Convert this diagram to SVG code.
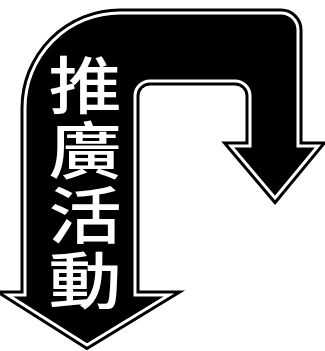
<svg xmlns="http://www.w3.org/2000/svg" width="325" height="351" viewBox="0 0 325 351">
<style>
.outer{fill:#000;stroke:#000;stroke-width:9;stroke-linejoin:miter;stroke-miterlimit:10}
.inner{fill:#000;stroke:#fff;stroke-width:3;stroke-linejoin:miter;stroke-miterlimit:10}
.lbl{fill:#fff;font-family:"Noto Sans CJK TC","Noto Sans CJK SC",sans-serif;font-size:60px;font-weight:500;writing-mode:vertical-rl;text-orientation:upright;letter-spacing:2.5px}
</style>
<defs>
<path id="arrowShape" d="M 25 295 L 25 108 A 95 95 0 0 1 120 13 L 281 13 A 17 17 0 0 1 298 30 L 298 146 L 318 146 L 275 198 L 231 146 L 250 146 L 250 96 A 15 15 0 0 0 235 81 L 150 81 A 15 15 0 0 0 135 96 L 135 295 L 169 295 L 87 345 L 8 295 Z"/>
</defs>
<rect width="325" height="351" fill="#fff"/>
<g id="connectors">
<use href="#arrowShape" class="outer"/>
<use href="#arrowShape" class="inner"/>
</g>
<g id="label" transform="translate(85,0) scale(1.22,1.04)">
<text class="lbl" x="0" y="52">推廣活動</text>
</g>
</svg>
